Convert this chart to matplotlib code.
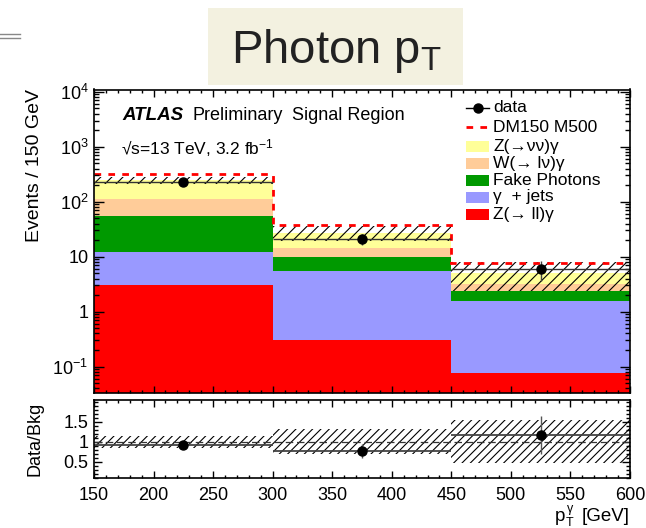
import numpy as np
import matplotlib
matplotlib.use("Agg")
import matplotlib.pyplot as plt
from matplotlib.patches import Rectangle
from matplotlib.lines import Line2D
from matplotlib.ticker import FixedLocator, MultipleLocator, LogLocator, FuncFormatter, NullFormatter

plt.rcParams['font.family'] = ['Liberation Sans', 'DejaVu Sans']
plt.rcParams['mathtext.fontset'] = 'custom'
plt.rcParams['mathtext.rm'] = 'Liberation Sans'
plt.rcParams['mathtext.it'] = 'Liberation Sans:italic'
plt.rcParams['mathtext.bf'] = 'Liberation Sans:bold'
plt.rcParams['hatch.linewidth'] = 0.8

# ---- photon pT histogram contents (3 bins of 150 GeV) ----
bin_edges = [150, 300, 450, 600]
zll_gamma = [3.0, 0.30, 0.077]        # Z(->ll)gamma
gamma_jets = [9.1, 5.1, 1.49]         # gamma + jets
fake_photons = [43.5, 4.3, 0.82]      # fake photons
wlnu_gamma = [56.5, 4.6, 0.77]        # W(->lnu)gamma
znunu_gamma = [135.0, 13.1, 1.97]     # Z(->nunu)gamma
dm_signal = [75.0, 10.6, 2.6]         # DM150 M500, stacked on background
data_counts = [226, 21, 6]
bkg_rel_unc = [0.15, 0.31, 0.53]

x_ticks = [150, 200, 250, 300, 350, 400, 450, 500, 550, 600]
ratio_ticks = [0.5, 1.0, 1.5]

stack = [
    (zll_gamma, '#ff0000', 'Z(\u2192 ll)\u03b3'),
    (gamma_jets, '#9999ff', '\u03b3  + jets'),
    (fake_photons, '#009900', 'Fake Photons'),
    (wlnu_gamma, '#ffcc99', 'W(\u2192 l\u03bd)\u03b3'),
    (znunu_gamma, '#ffff99', 'Z(\u2192\u03bd\u03bd)\u03b3'),
]

edges = np.array(bin_edges, dtype=float)
centers = 0.5 * (edges[:-1] + edges[1:])
data = np.array(data_counts, dtype=float)
data_err = np.sqrt(data)
unc = np.array(bkg_rel_unc)

W, H = 646, 528
fig = plt.figure(figsize=(W / 100, H / 100), dpi=100)

def fx(px):
    return px / W

def fy(py):
    return 1 - py / H

ax = fig.add_axes([fx(94), fy(393), fx(630) - fx(94), fy(89.5) - fy(393)])
rax = fig.add_axes([fx(94), fy(478.3), fx(630) - fx(94), fy(400) - fy(478.3)])

# ---- stacked backgrounds ----
total = np.zeros(3)
for vals, col, _ in stack:
    v = np.array(vals)
    top = total + v
    ax.stairs(top, edges, baseline=np.maximum(total, 1e-4), fill=True, color=col, lw=0)
    total = top
bkg = total

# background uncertainty band
ax.bar(centers, 2 * unc * bkg, bottom=bkg * (1 - unc), width=np.diff(edges),
       fill=False, hatch='///', edgecolor='black', lw=0)

# signal on top of the background
ax.stairs(bkg + np.array(dm_signal), edges, baseline=None, color='#ff0000', lw=2.0,
          linestyle=(0, (2.4, 2.6)))

# data
ax.hlines(data, edges[:-1], edges[1:], color='#333333', lw=1.0)
ax.errorbar(centers, data, yerr=data_err, fmt='o', color='black', ms=6.5,
            ecolor='#444444', elinewidth=1.0, capsize=0)

ax.set_xlim(150, 600)
ax.set_yscale('log')
ax.set_ylim(0.033, 1.1e4)
ax.xaxis.set_major_locator(FixedLocator(x_ticks))
ax.xaxis.set_minor_locator(MultipleLocator(10))
ax.yaxis.set_major_locator(LogLocator(base=10, numticks=20))
ax.yaxis.set_minor_locator(LogLocator(base=10, subs=np.arange(2, 10), numticks=50))
ax.yaxis.set_minor_formatter(NullFormatter())

def log_fmt(v, pos):
    k = int(round(np.log10(v)))
    if k == 0:
        return '1'
    if k == 1:
        return '10'
    return r'$\mathregular{10^{%d}}$' % k

ax.yaxis.set_major_formatter(FuncFormatter(log_fmt))
ax.tick_params(axis='both', which='both', direction='in', top=True, right=True,
               labelbottom=False, labelsize=13, width=1.0, pad=4)
ax.tick_params(axis='y', which='major', length=7)
ax.tick_params(axis='y', which='minor', length=3.5)
ax.tick_params(axis='x', which='major', length=5)
ax.tick_params(axis='x', which='minor', length=2.5)
for s in ax.spines.values():
    s.set_linewidth(1.2)

# ---- labels inside main panel ----
def axy(py):
    return (393 - py) / 303.5

def axx(px):
    return (px - 94) / 536

ax.text(axx(122), axy(115), 'ATLAS', transform=ax.transAxes, fontsize=13.5,
        fontweight='bold', fontstyle='italic', va='center', ha='left')
ax.text(axx(193), axy(115), 'Preliminary', transform=ax.transAxes, fontsize=13,
        va='center', ha='left')
ax.text(axx(292), axy(115), 'Signal Region', transform=ax.transAxes, fontsize=13,
        va='center', ha='left')
ax.text(axx(121), axy(148), '\u221as=13 TeV, 3.2 fb$^{\\mathregular{-1}}$',
        transform=ax.transAxes, fontsize=12.5, va='center', ha='left')

# ---- legend ----
rows = [108, 127, 146, 163.5, 180.5, 197, 214.5]
x0, x1, xt = axx(466), axx(489), axx(493)
lfs = 12.5
ax.add_line(Line2D([x0, x1], [axy(rows[0])] * 2, transform=ax.transAxes, color='black', lw=1.0))
ax.add_line(Line2D([(x0 + x1) / 2], [axy(rows[0])], transform=ax.transAxes, marker='o',
                   ms=6.5, color='black', lw=0))
ax.text(xt, axy(rows[0]), 'data', transform=ax.transAxes, fontsize=lfs, va='center')
ax.add_line(Line2D([x0, x1], [axy(rows[1])] * 2, transform=ax.transAxes, color='#ff0000',
                   lw=2.0, linestyle=(0, (2.4, 2.6))))
ax.text(xt, axy(rows[1]), 'DM150 M500', transform=ax.transAxes, fontsize=lfs, va='center')
for r, (vals, col, lab) in zip(rows[2:], stack[::-1]):
    ph = 11 / 303.5
    ax.add_patch(Rectangle((x0, axy(r) - ph / 2), x1 - x0, ph, transform=ax.transAxes,
                           facecolor=col, edgecolor='none'))
    ax.text(xt, axy(r), lab, transform=ax.transAxes, fontsize=lfs, va='center')

# ---- ratio panel ----
ratio = data / bkg
ratio_err = data_err / bkg
rax.bar(centers, 2 * unc, bottom=1 - unc, width=np.diff(edges), fill=False,
        hatch='////', edgecolor='black', lw=0)
rax.axhline(1.0, color='#333333', lw=0.9, linestyle=(0, (6, 3)))
rax.hlines(ratio, edges[:-1], edges[1:], color='#444444', lw=1.3)
rax.errorbar(centers, ratio, yerr=ratio_err, fmt='o', color='black', ms=6.5,
             ecolor='#555555', elinewidth=1.0, capsize=0)
rax.set_xlim(150, 600)
rax.set_ylim(0.08, 2.04)
rax.xaxis.set_major_locator(FixedLocator(x_ticks))
rax.xaxis.set_minor_locator(MultipleLocator(10))
rax.yaxis.set_major_locator(FixedLocator(ratio_ticks))
rax.yaxis.set_minor_locator(MultipleLocator(0.1))
rax.yaxis.set_major_formatter(FuncFormatter(lambda v, p: '%g' % v))
rax.tick_params(axis='both', which='both', direction='in', top=True, right=True,
                labelsize=13, width=1.0)
rax.tick_params(axis='y', which='major', length=6, pad=4)
rax.tick_params(axis='y', which='minor', length=3)
rax.tick_params(axis='x', which='major', length=5, pad=6)
rax.tick_params(axis='x', which='minor', length=2.5)
for s in rax.spines.values():
    s.set_linewidth(1.2)

# ---- axis titles ----
fig.text(fx(35), fy(166), 'Events / 150 GeV', rotation=90, fontsize=14,
         ha='center', va='center')
fig.text(fx(35), fy(439), 'Data/Bkg', rotation=90, fontsize=13,
         ha='center', va='center')

# x title built from pieces: p, raised gamma, lowered T, then the unit
renderer = fig.canvas.get_renderer()
unit = fig.text(fx(630), fy(521), '[GeV]', fontsize=13.5, ha='right', va='baseline')
ux0 = unit.get_window_extent(renderer).x0
sup = fig.text((ux0 - 9) / W, fy(512), '\u03b3', fontsize=9, ha='right', va='baseline')
sub = fig.text((ux0 - 9) / W, fy(526.5), 'T', fontsize=9, ha='right', va='baseline')
sx0 = min(sup.get_window_extent(renderer).x0, sub.get_window_extent(renderer).x0)
fig.text((sx0 - 0.5) / W, fy(521), 'p', fontsize=13.5, ha='right', va='baseline')

# ---- slide header ----
fig.patches.append(Rectangle((fx(208), fy(85)), fx(463) - fx(208), fy(8) - fy(85),
                             transform=fig.transFigure, facecolor='#f3f1e0',
                             edgecolor='none', zorder=0))
fig.text(fx(336), fy(63), r'Photon p$_{\mathregular{T}}$', fontsize=34,
         color='#222222', ha='center', va='baseline')
for yy in (33.5, 37.5):
    fig.add_artist(Line2D([0, fx(20)], [fy(yy)] * 2, transform=fig.transFigure,
                          color='#888888', lw=1.0))

fig.savefig('out.png', dpi=100)
